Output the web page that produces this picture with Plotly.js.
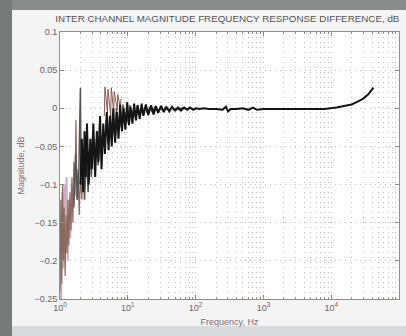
<!DOCTYPE html>
<html>
<head>
<meta charset="utf-8">
<script src="https://cdn.plot.ly/plotly-3.0.1.min.js"></script>
<style>
html,body{margin:0;padding:0;background:#f4f4f4;overflow:hidden;}
#wrap{position:relative;width:406px;height:336px;}
.bgp{position:absolute;}
#chart{position:absolute;left:0;top:0;width:406px;height:336px;}
</style>
</head>
<body>
<div id="wrap">
  <div class="bgp" style="left:0;top:0;width:406px;height:10px;background:#8a8c8c;"></div>
  <div class="bgp" style="left:0;top:0;width:12px;height:336px;background:#767b7a;"></div>
  <div class="bgp" style="left:12px;top:326px;width:394px;height:10px;background:#d8dbdb;"></div>
  <div id="chart"></div>
</div>
<script>
// ---- data ----
var titleText = "INTER CHANNEL MAGNITUDE FREQUENCY RESPONSE DIFFERENCE, dB";
var xTickVals = [1, 10, 100, 1000, 10000, 100000];
var xTickText = ["10<sup>0</sup>", "10<sup>1</sup>", "10<sup>2</sup>", "10<sup>3</sup>", "10<sup>4</sup>", "10<sup>5</sup>"];
var yTickVals = [0.1, 0.05, 0, -0.05, -0.1, -0.15, -0.2, -0.25];

// channel pair 1 (black)
var f1 = [2.0, 2.1, 2.2, 2.3, 2.4, 2.5, 2.65, 2.8, 2.95, 3.1, 3.3, 3.5, 3.7, 3.9, 4.1, 4.35, 4.6, 4.9, 5.2, 5.5,
          5.8, 6.1, 6.5, 6.9, 7.3, 7.7, 8.2, 8.7, 9.2, 9.8, 10.4, 11, 11.7, 12.4, 13.2, 14, 15, 16, 17, 18.5,
          20, 22, 24, 26, 28, 31, 34, 37, 41, 45, 50, 55, 61, 68, 75, 83, 92, 102, 115, 130,
          160, 200, 250, 280, 300, 330, 400, 500, 600, 700, 800, 1000, 1500, 2000, 3000, 5000, 8000, 12000, 16000, 20000,
          25000, 30000, 35000, 40000, 42000];
var v1 = [-0.10, -0.04, -0.11, -0.03, -0.09, -0.02, -0.10, -0.04, -0.08, -0.02, -0.09, -0.03, -0.07, -0.01, -0.08, -0.02, -0.06, -0.005, -0.055, -0.01,
          -0.05, 0.0, -0.045, -0.005, -0.04, 0.005, -0.03, 0.0, -0.028, 0.008, -0.022, 0.002, -0.02, 0.006, -0.016, 0.004, -0.014, 0.006, -0.01, 0.005,
          -0.009, 0.004, -0.008, 0.003, -0.006, 0.003, -0.005, 0.002, -0.004, 0.002, -0.003, 0.001, -0.003, 0.001, -0.002, 0.001, -0.002, 0.0, -0.001, 0.0,
          -0.001, -0.001, -0.002, 0.002, -0.004, -0.001, -0.001, 0.0, -0.002, 0.001, -0.002, -0.001, -0.001, -0.001, -0.0015, -0.0015, -0.001, 0.001, 0.003, 0.005,
          0.009, 0.013, 0.018, 0.024, 0.027];

// channel pair 2 (dark grey)
var f2 = [1.6, 1.7, 1.8, 1.9, 2.0, 2.05, 2.15, 2.3, 2.45, 2.6, 2.75, 2.9, 3.05, 3.25, 3.45, 3.65, 3.85, 4.05, 4.3, 4.55,
          4.8, 5.1, 5.4, 5.7, 6.0, 6.4, 6.8, 7.2, 7.6, 8.0, 8.5, 9.0, 9.5, 10.1, 10.7, 11.4, 12.1, 12.9, 13.7, 14.6,
          15.6, 16.7, 18, 19.5, 21, 23, 25, 27.5, 30, 33, 36, 40, 44, 48, 53, 58, 64, 71, 80, 90, 100];
var v2 = [-0.13, -0.06, -0.12, -0.08, 0.027, -0.101, -0.05, -0.12, -0.06, -0.11, -0.05, -0.09, -0.03, -0.08, -0.04, -0.075, -0.02, -0.06, -0.03, -0.05,
          -0.015, -0.045, -0.01, -0.04, -0.02, -0.035, 0.0, -0.03, -0.01, -0.025, 0.005, -0.02, -0.005, -0.018, 0.004, -0.012, -0.002, -0.012, 0.003, -0.009,
          0.0, -0.008, 0.002, -0.006, 0.001, -0.005, 0.002, -0.004, 0.0, -0.003, 0.001, -0.003, 0.001, -0.002, 0.0, -0.002, 0.001, -0.001, 0.0, -0.001, 0.0];

// channel pair 3 (brown)
var f3 = [1.0, 1.03, 1.06, 1.09, 1.12, 1.15, 1.19, 1.23, 1.27, 1.31, 1.35, 1.4, 1.45, 1.5, 1.55, 1.6, 1.66, 1.72, 1.78, 1.85,
          1.92, 2.0, 2.1, 2.2, 2.35, 2.5];
var v3 = [-0.24, -0.12, -0.23, -0.10, -0.20, -0.13, -0.22, -0.14, -0.19, -0.12, -0.18, -0.11, -0.16, -0.09, -0.15, -0.07, -0.115, -0.015, -0.12, -0.08,
          -0.14, -0.09, -0.12, -0.06, -0.10, -0.05];

// channel pair 4 (pink)
var f4 = [1.0, 1.04, 1.08, 1.12, 1.16, 1.2, 1.25, 1.3, 1.36, 1.42, 1.48];
var v4 = [-0.15, -0.25, -0.11, -0.21, -0.10, -0.19, -0.09, -0.20, -0.12, -0.17, -0.10];

// channel pair 5 (red-brown spikes)
var f5 = [4.5, 4.6, 5.0, 5.1, 5.6, 5.7, 6.2, 6.3, 7.0, 7.1, 7.8, 7.9];
var v5 = [-0.01, 0.028, -0.005, 0.025, -0.01, 0.027, -0.004, 0.022, -0.002, 0.018, 0.0, 0.012];

// ---- styling / layout ----
var minorVals = [];
for (var d = 0; d < 5; d++) {
  for (var m = 2; m <= 9; m++) minorVals.push(m * Math.pow(10, d));
}

var traces = [
  {x: f4, y: v4, mode: 'lines', line: {color: '#cdb0bf', width: 2}},
  {x: f3, y: v3, mode: 'lines', line: {color: '#8a6a5e', width: 1.2}},
  {x: f5, y: v5, mode: 'lines', line: {color: '#8a5a52', width: 1}},
  {x: f2, y: v2, mode: 'lines', line: {color: '#555555', width: 1.5}},
  {x: f1, y: v1, mode: 'lines', line: {color: '#151515', width: 2}}
];

var gridCol = '#c9bfc3';
var gridDash = '1px,4px';
var layout = {
  width: 406, height: 336,
  margin: {l: 60, r: 7, t: 32, b: 37, pad: 0},
  paper_bgcolor: 'rgba(0,0,0,0)',
  plot_bgcolor: '#ffffff',
  showlegend: false,
  font: {family: 'Liberation Sans, Arial, sans-serif', size: 9, color: '#6a6266'},
  title: {text: titleText, font: {size: 9.8, color: '#555555'}, x: 0.56, xanchor: 'center', y: 0.946, yanchor: 'middle', yref: 'container'},
  xaxis: {
    type: 'log', range: [0, 5],
    tickvals: xTickVals, ticktext: xTickText,
    ticks: 'inside', ticklen: 4, tickcolor: '#a08a80',
    showline: true, linecolor: '#a08a80', linewidth: 1, mirror: 'ticks',
    showgrid: true, gridcolor: gridCol, griddash: gridDash, gridwidth: 1,
    minor: {tickvals: minorVals, showgrid: true, gridcolor: gridCol, griddash: gridDash, gridwidth: 1, ticks: 'inside', ticklen: 2, tickcolor: '#a08a80'},
    zeroline: false,
    tickfont: {size: 9, color: '#6a6266'},
    title: {text: 'Frequency, Hz', font: {size: 9, color: '#7a6a70'}, standoff: 6}
  },
  yaxis: {
    range: [-0.25, 0.1],
    tickvals: yTickVals,
    ticks: 'inside', ticklen: 4, tickcolor: '#a08a80',
    showline: true, linecolor: '#a08a80', linewidth: 1, mirror: 'ticks',
    showgrid: true, gridcolor: gridCol, griddash: gridDash, gridwidth: 1,
    zeroline: false,
    tickfont: {size: 9, color: '#6a6266'},
    title: {text: 'Magnitude, dB', font: {size: 9, color: '#8a7078'}, standoff: 8}
  }
};

Plotly.newPlot('chart', traces, layout, {displayModeBar: false, staticPlot: true});
</script>
</body>
</html>
